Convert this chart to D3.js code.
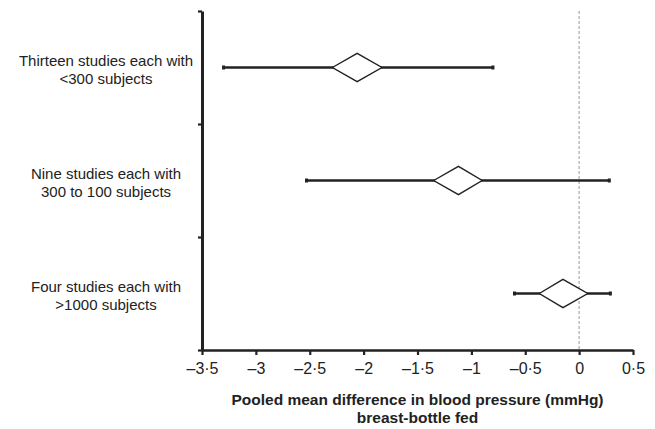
<!DOCTYPE html>
<meta charset="utf-8">
<head>
  <meta charset="utf-8">
  <title>pooled mean difference in blood pressure</title>
  <script src="https://d3js.org/d3.v7.min.js"></script>
</head>
<style>
body {margin:0; background:#fff;}
svg text {font-family: "Liberation Sans", Arial, Helvetica, sans-serif; fill: #222;}
.whisker {stroke: #222; stroke-width: 2.6px;}
.diamond {fill: #fff; stroke: #222; stroke-width: 1.4px;}
</style>
<body>
<script>

// data
var groups = [
  ["Thirteen studies each with", "<300 subjects"],
  ["Nine studies each with", "300 to 100 subjects"],
  ["Four studies each with", ">1000 subjects"]
];
var estimate = [-2.06, -1.12, -0.15];
var diamondLow = [-2.29, -1.35, -0.37];
var diamondHigh = [-1.83, -0.90, 0.08];
var ciLow = [-3.30, -2.53, -0.60];
var ciHigh = [-0.80, 0.28, 0.29];
var xTicks = [-3.5, -3, -2.5, -2, -1.5, -1, -0.5, 0, 0.5];
var xTitle = ["Pooled mean difference in blood pressure (mmHg)", "breast-bottle fed"];

var margin = {top: 11, right: 22, bottom: 79, left: 202},
    width = 655 - margin.left - margin.right,
    height = 429 - margin.top - margin.bottom;

var svg = d3.select("body").append("svg")
    .attr("width", width + margin.left + margin.right)
    .attr("height", height + margin.top + margin.bottom)
  .append("g")
    .attr("transform", "translate(" + margin.left + "," + margin.top + ")");

var x = d3.scaleLinear().domain([-3.5, 0.5]).range([0, width]);
var y = d3.scaleBand().domain(d3.range(groups.length)).range([0, height]).padding(0);
var yEdge = d3.scaleLinear().domain([0, groups.length]).range([0, height]);

// reference line at zero
svg.append("line")
    .attr("x1", x(0)).attr("x2", x(0))
    .attr("y1", 0).attr("y2", height)
    .style("stroke", "#aaa")
    .style("stroke-width", 1.2)
    .style("stroke-dasharray", "3,2");

// x axis
var xAxis = svg.append("g")
    .attr("transform", "translate(0," + height + ")")
    .call(d3.axisBottom(x)
      .tickValues(xTicks)
      .tickSize(5)
      .tickPadding(8)
      .tickSizeOuter(0)
      .tickFormat(function(d) { return String(d).replace("-", "\u2013").replace(".", "\u00b7"); }));
xAxis.select(".domain").style("stroke", "#222").style("stroke-width", 2.6);
xAxis.selectAll(".tick line").style("stroke", "#222").style("stroke-width", 2.2);
xAxis.selectAll("text").style("font-size", "16px").style("fill", "#222");

// y axis, ticks between the groups
var yAxis = svg.append("g")
    .call(d3.axisLeft(yEdge)
      .tickValues(d3.range(groups.length + 1))
      .tickSize(4)
      .tickSizeOuter(0)
      .tickFormat(""));
yAxis.select(".domain").style("stroke", "#222").style("stroke-width", 3);
yAxis.selectAll(".tick line").style("stroke", "#222").style("stroke-width", 2.2);

// group labels
var labels = svg.selectAll(".grp")
    .data(groups)
  .enter().append("text")
    .attr("class", "grp")
    .attr("text-anchor", "middle")
    .attr("x", 106 - margin.left)
    .attr("y", function(d, i) { return y(i) + y.bandwidth() / 2; })
    .style("font-size", "15px");
labels.selectAll("tspan")
    .data(function(d) { return d; })
  .enter().append("tspan")
    .attr("x", 106 - margin.left)
    .attr("dy", function(d, j) { return j == 0 ? "-2" : "18.6"; })
    .text(function(d) { return d; });

// whiskers
var rows = svg.selectAll(".row")
    .data(estimate)
  .enter().append("g")
    .attr("class", "row")
    .attr("transform", function(d, i) { return "translate(0," + (y(i) + y.bandwidth() / 2) + ")"; });

rows.append("line")
    .attr("class", "whisker")
    .attr("x1", function(d, i) { return x(ciLow[i]); })
    .attr("x2", function(d, i) { return x(ciHigh[i]); });

// small caps at whisker ends
rows.each(function(d, i) {
  var g = d3.select(this);
  [ciLow[i], ciHigh[i]].forEach(function(v) {
    g.append("rect")
      .attr("x", x(v) - 1.5).attr("y", -2)
      .attr("width", 3).attr("height", 4)
      .style("fill", "#222");
  });
});

// diamonds
rows.append("path")
    .attr("class", "diamond")
    .attr("d", function(d, i) {
      var h = 14.2;
      return "M" + x(diamondLow[i]) + ",0L" + x(d) + "," + (-h) +
             "L" + x(diamondHigh[i]) + ",0L" + x(d) + "," + h + "Z";
    });

// axis title
svg.append("text")
    .attr("text-anchor", "middle")
    .attr("x", width / 2)
    .attr("y", height + 55)
    .style("font-size", "15.5px")
    .style("font-weight", "bold")
  .selectAll("tspan")
    .data(xTitle)
  .enter().append("tspan")
    .attr("x", width / 2)
    .attr("dy", function(d, j) { return j == 0 ? 0 : 18; })
    .text(function(d) { return d; });

</script>
</body>
